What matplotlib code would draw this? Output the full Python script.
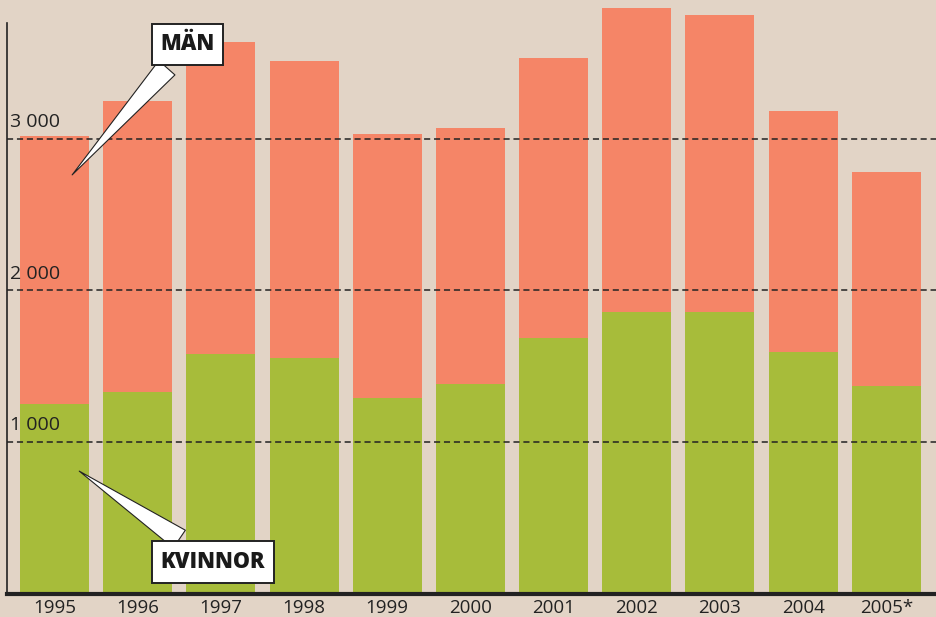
import numpy as np
import matplotlib.pyplot as plt

years = ["1995", "1996", "1997", "1998", "1999", "2000", "2001", "2002", "2003", "2004", "2005*"]
kvinnor = [1250, 1330, 1580, 1555, 1290, 1380, 1685, 1855, 1855, 1595, 1370]
totalt = [3022, 3250, 3637, 3512, 3035, 3070, 3537, 3862, 3817, 3182, 2785]
man = [t - k for t, k in zip(totalt, kvinnor)]
grid_vals = [1000, 2000, 3000]
grid_labels = ["1 000", "2 000", "3 000"]

bg = "#E2D4C6"
orange = "#F58567"
green = "#A7BC3A"

plt.rcParams['font.family'] = ['Open Sans', 'DejaVu Sans']

fig = plt.figure(figsize=(9.37, 6.17), dpi=100, facecolor=bg)
ax = fig.add_axes([7 / 937, 1 - 593.5 / 617, 930 / 937, 593.5 / 617])
ax.set_facecolor(bg)

x = np.arange(len(years))
ax.bar(x, kvinnor, width=0.83, color=green, zorder=2)
ax.bar(x, man, bottom=kvinnor, width=0.83, color=orange, zorder=2)

for v, lab in zip(grid_vals, grid_labels):
    ax.axhline(v, color="#222222", lw=1.1, ls=(0, (4, 2.5)), zorder=3)
    ax.text(-0.54, v + 50, lab, fontsize=14, color="#222222", va="bottom", ha="left", zorder=4)

ax.set_xlim(-0.571, 10.61)
ax.set_ylim(0, 3917)
ax.set_xticks(x)
ax.set_xticklabels(years, fontsize=13.5, color="#222222")
ax.tick_params(axis="x", length=0, pad=4)
ax.set_yticks([])
for s in ["top", "right"]:
    ax.spines[s].set_visible(False)
ax.spines["bottom"].set_linewidth(3)
ax.spines["bottom"].set_color("#222222")
ax.spines["left"].set_color("#222222")
ax.spines["left"].set_linewidth(1.2)
ax.spines["left"].set_bounds(0, 3766)

box = dict(boxstyle="square,pad=0.4", fc="white", ec="#222222", lw=1.4)
arrow = dict(arrowstyle="wedge,tail_width=1.0,shrink_factor=0.5", fc="white", ec="#222222", lw=0.8)
ax.annotate("MÄN", xy=(0.19, 2749), xytext=(1.6, 3624), fontsize=15.5, fontweight="heavy",
            ha="center", va="center", color="#1a1a1a", bbox=box, zorder=5, arrowprops=arrow)
ax.annotate("KVINNOR", xy=(0.27, 818), xytext=(1.905, 208), fontsize=15.5, fontweight="heavy",
            ha="center", va="center", color="#1a1a1a", bbox=box, zorder=5, arrowprops=arrow)

fig.savefig("out.png", dpi=100, facecolor=bg)
